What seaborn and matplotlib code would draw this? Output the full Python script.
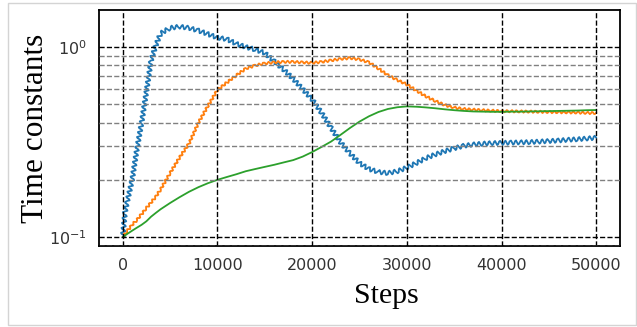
import numpy as np
import pandas as pd
import matplotlib
matplotlib.use("Agg")
import matplotlib.pyplot as plt
import matplotlib.ticker as mticker
from matplotlib.patches import Rectangle
import seaborn as sns

steps = [0, 250, 500, 1000, 1500, 2000, 2500, 3000, 3500, 4000,
         5000, 6000, 7000, 8000, 9000, 10000, 11000, 12000, 13000, 14000,
         15000, 16000, 17000, 18000, 19000, 20000, 21000, 22000, 23000, 24000,
         25000, 26000, 27000, 28000, 29000, 30000, 31000, 32000, 33000, 34000,
         35000, 36000, 37000, 38000, 39000, 40000, 41000, 42000, 43000, 44000,
         45000, 46000, 47000, 48000, 49000, 50000]

blue = [0.100, 0.135, 0.155, 0.200, 0.290, 0.400, 0.580, 0.850, 1.020, 1.180,
        1.260, 1.280, 1.260, 1.220, 1.170, 1.120, 1.100, 1.040, 1.000, 0.970,
        0.930, 0.840, 0.760, 0.680, 0.600, 0.530, 0.450, 0.375, 0.315, 0.275,
        0.245, 0.228, 0.220, 0.217, 0.222, 0.232, 0.245, 0.260, 0.272, 0.283,
        0.293, 0.302, 0.307, 0.310, 0.312, 0.313, 0.314, 0.315, 0.316, 0.318,
        0.320, 0.322, 0.325, 0.327, 0.330, 0.333]

orange = [0.100, 0.104, 0.108, 0.116, 0.123, 0.132, 0.142, 0.152, 0.163, 0.178,
          0.217, 0.262, 0.310, 0.400, 0.490, 0.594, 0.650, 0.710, 0.770, 0.800,
          0.820, 0.830, 0.835, 0.835, 0.830, 0.825, 0.835, 0.850, 0.865, 0.875,
          0.860, 0.830, 0.770, 0.710, 0.670, 0.635, 0.590, 0.550, 0.520, 0.495,
          0.480, 0.472, 0.468, 0.465, 0.462, 0.460, 0.459, 0.458, 0.457, 0.456,
          0.455, 0.454, 0.453, 0.452, 0.450, 0.449]

green = [0.100, 0.102, 0.104, 0.108, 0.112, 0.116, 0.121, 0.128, 0.134, 0.140,
         0.151, 0.162, 0.173, 0.183, 0.192, 0.200, 0.207, 0.214, 0.222, 0.228,
         0.234, 0.240, 0.247, 0.254, 0.265, 0.280, 0.298, 0.318, 0.345, 0.375,
         0.405, 0.432, 0.455, 0.472, 0.482, 0.487, 0.485, 0.481, 0.476, 0.470,
         0.465, 0.461, 0.458, 0.457, 0.456, 0.456, 0.457, 0.457, 0.458, 0.459,
         0.460, 0.461, 0.462, 0.463, 0.465, 0.466]

series_names = ["blue", "orange", "green"]
series_values = [blue, orange, green]
colors = ["#1f77b4", "#ff7f0e", "#2ca02c"]
xticks = [0, 10000, 20000, 30000, 40000, 50000]

df = pd.concat([pd.DataFrame({"Steps": steps, "value": v, "series": n})
                for n, v in zip(series_names, series_values)], ignore_index=True)

sns.set_style("white")
plt.rcParams["font.family"] = ["DejaVu Sans"]

fig = plt.figure(figsize=(6.37, 3.27), dpi=100)
ax = fig.add_axes([99/637, 1-246/327, (620-99)/637, (246-10)/327])

sns.lineplot(data=df, x="Steps", y="value", hue="series", palette=colors,
             hue_order=series_names, linewidth=1.3, ax=ax, legend=False,
             sort=False, estimator=None)

# ripple style on the noisy series
lines = ax.get_lines()
lines[0].set_sketch_params(scale=2.2, length=5.0, randomness=1.0)
lines[1].set_sketch_params(scale=1.2, length=4.5, randomness=1.0)

ax.set_yscale("log")
ax.set_xlim(-2500, 52500)
ax.set_ylim(0.0897, 1.566)
ax.set_xticks(xticks)
ax.yaxis.set_major_locator(mticker.LogLocator(base=10))
ax.yaxis.set_minor_locator(mticker.LogLocator(base=10, subs=np.arange(2, 10)))
ax.yaxis.set_minor_formatter(mticker.NullFormatter())

ax.grid(True, which="major", axis="both", color="black", linestyle="--", linewidth=1.0)
ax.grid(True, which="minor", axis="y", color="#808080", linestyle="--", linewidth=1.0)
ax.set_axisbelow(False)

ax.tick_params(axis="both", which="major", labelsize=11.5, length=5, width=1.0,
               color="black", labelcolor="#333333", direction="out")
ax.tick_params(axis="y", which="minor", length=0)

for s in ax.spines.values():
    s.set_color("black")
    s.set_linewidth(1.3)

ax.set_xlabel("Steps", family="Liberation Serif", fontsize=21.5, color="black")
ax.set_ylabel("Time constants", family="Liberation Serif", fontsize=22.5, color="black")
ax.xaxis.set_label_coords(0.551, -0.155)
ax.yaxis.set_label_coords(-0.094, 0.5)

fig.patches.append(Rectangle((8/637, 2/327), 628/637, 322/327, transform=fig.transFigure,
                             fill=False, edgecolor="#d4d4d4", linewidth=1.0))

fig.savefig("out.png", dpi=100)
